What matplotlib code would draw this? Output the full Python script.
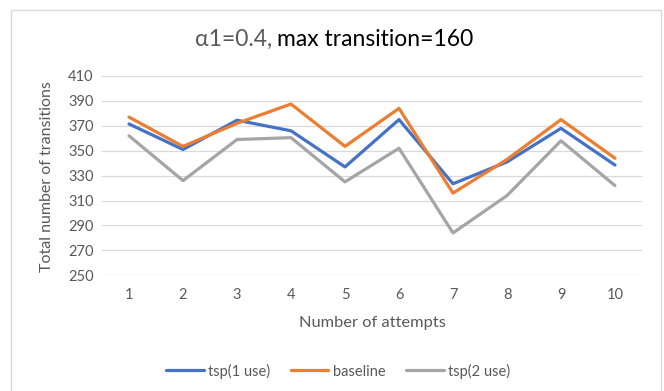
import matplotlib
matplotlib.use("Agg")
import matplotlib.pyplot as plt
from matplotlib.patches import Rectangle

attempts = [1, 2, 3, 4, 5, 6, 7, 8, 9, 10]
tsp_1_use = [371.5, 351, 374.5, 366, 337, 375, 323.5, 341, 368, 338.5]
baseline = [377, 353.5, 372, 387.5, 353.5, 384, 316, 343, 375, 344]
tsp_2_use = [362, 326, 359, 360.5, 325, 352, 284, 314, 358, 322]
yticks = [250, 270, 290, 310, 330, 350, 370, 390, 410]
series_names = ["tsp(1 use)", "baseline", "tsp(2 use)"]
colors = ["#4472C4", "#ED7D31", "#A5A5A5"]

plt.rcParams['font.family'] = ['Lato', 'DejaVu Sans']
W, H = 664, 391
fig = plt.figure(figsize=(W / 100, H / 100), dpi=100)

# outer border
fig.patches.append(Rectangle((11 / W, -0.1), (661 - 11) / W, 1.1 - 10 / H,
                             transform=fig.transFigure, fill=False,
                             edgecolor="#D9D9D9", linewidth=1.0))

ax = fig.add_axes([102 / W, 1 - 275.3 / H, 540 / W, (275.3 - 76) / H])
for vals, name, c in zip([tsp_1_use, baseline, tsp_2_use], series_names, colors):
    ax.plot(attempts, vals, color=c, linewidth=2.3, label=name,
            solid_capstyle="round", solid_joinstyle="round")

ax.set_xlim(0.5, 10.5)
ax.set_ylim(250, 410)
ax.set_yticks(yticks)
ax.set_xticks(attempts)
ax.grid(axis="y", color="#D9D9D9", linewidth=0.9)
ax.set_axisbelow(True)
for s in ax.spines.values():
    s.set_visible(False)
ax.tick_params(length=0, labelsize=10.5, labelcolor="#595959", pad=6)
ax.tick_params(axis="x", pad=9)

fig.text(372 / W, 1 - 323 / H, "Number of attempts", ha="center", va="center",
         fontsize=11.8, color="#595959")
fig.text(47 / W, 1 - 177 / H, "Total number of transitions", ha="center", va="center",
         rotation=90, fontsize=11.5, color="#595959")

# two-colour title
fig.canvas.draw()
r = fig.canvas.get_renderer()
t1 = fig.text(195 / W, 1 - 39 / H, "\u03b11=0.4,", ha="left", va="center",
              fontsize=16.5, color="#595959")
bb = t1.get_window_extent(renderer=r)
fig.text(bb.x1 / W + 5 / W, 1 - 39 / H, "max transition=160", ha="left", va="center",
         fontsize=16.5, color="#000000")

fig.legend(loc="center", bbox_to_anchor=(338 / W, 1 - 371 / H), ncol=3, frameon=False,
           fontsize=10.5, handlelength=2.6, handletextpad=0.3, columnspacing=1.4,
           labelcolor="#595959")

fig.savefig("out.png", dpi=100)
